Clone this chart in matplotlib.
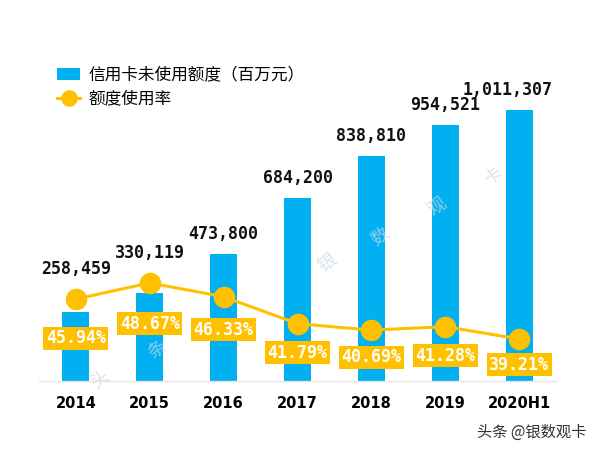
import matplotlib
matplotlib.use('Agg')
from matplotlib import pyplot as plt

plt.rcParams['font.family'] = ['Noto Sans CJK SC', 'DejaVu Sans']

# data
years = ['2014', '2015', '2016', '2017', '2018', '2019', '2020H1']
unused = [258459, 330119, 473800, 684200, 838810, 954521, 1011307]
usage = [45.94, 48.67, 46.33, 41.79, 40.69, 41.28, 39.21]

blue = '#00B0F0'
orange = '#FFC000'

fig = plt.figure(figsize=(6, 4.5), dpi=100)
ax = fig.add_axes([39 / 600, 69 / 450, 517 / 600, 341 / 450])
ax2 = ax.twinx()

x = list(range(len(years)))
ax.bar(x, unused, width=0.365, color=blue, label='信用卡未使用额度（百万元）', zorder=2)
ax2.plot(x, usage, color=orange, lw=2.2, marker='o', markersize=14.5,
         label='额度使用率', zorder=3)

ax.set_xlim(-0.5, 6.5)
ax.set_ylim(0, 1272500)
ax2.set_ylim(32.1, 89.7)

for a in (ax, ax2):
    for s in a.spines.values():
        s.set_visible(False)
    a.set_yticks([])
ax.spines['bottom'].set_visible(True)
ax.spines['bottom'].set_color('#e6e6e6')
ax.spines['bottom'].set_linewidth(1)

ax.set_xticks(x)
ax.set_xticklabels(years, fontsize=10.5, fontweight='bold', family='DejaVu Sans')
ax.tick_params(axis='x', length=0, pad=11)

# value labels above bars / markers
shift = [0, 0, 0, 0, 0, 0, -12]
for i in x:
    bar_px = ax.transData.transform((i, unused[i]))[1]
    pt_px = ax2.transData.transform((i, usage[i]))[1] + 10
    y_px = max(bar_px, pt_px) + 20
    y_val = ax.transData.inverted().transform((0, y_px))[1]
    ax.annotate(format(unused[i], ','), xy=(i, y_val),
                xytext=(shift[i] * 0.72, 0), textcoords='offset points',
                ha='center', va='center',
                fontsize=12, fontweight='bold', family='DejaVu Sans Mono',
                color='#111111', zorder=5)

# percentage labels below markers
drop = [39, 41, 33, 29, 27, 29, 26]
for i in x:
    ax2.annotate('%.2f%%' % usage[i], xy=(i, usage[i]),
                 xytext=(0, -drop[i] * 0.72), textcoords='offset points',
                 ha='center', va='center', fontsize=12, fontweight='bold',
                 family='DejaVu Sans Mono', color='white', zorder=6,
                 bbox=dict(boxstyle='square,pad=0.15', fc=orange, ec='none'))

# legend
h1, l1 = ax.get_legend_handles_labels()
h2, l2 = ax2.get_legend_handles_labels()
fig.legend(h1 + h2, l1 + l2, loc='upper left', bbox_to_anchor=(0.07, 0.885),
           frameon=False, fontsize=12, handlelength=1.4, handletextpad=0.5,
           labelspacing=0.4, markerscale=0.75)

# faint watermark
marks = [('头', 100, 380), ('条', 157, 350), ('银', 327, 263),
         ('数', 380, 237), ('观', 437, 207), ('卡', 493, 177)]
for ch, px, py in marks:
    fig.text(px / 600, 1 - py / 450, ch, fontsize=13, color='#c8d8e8',
             rotation=35, ha='center', va='center', alpha=0.7)

fig.text(0.978, 1 - 432 / 450, '头条 @银数观卡', ha='right', va='center',
         fontsize=11, color='#333333')

fig.savefig('out.png', dpi=100)
